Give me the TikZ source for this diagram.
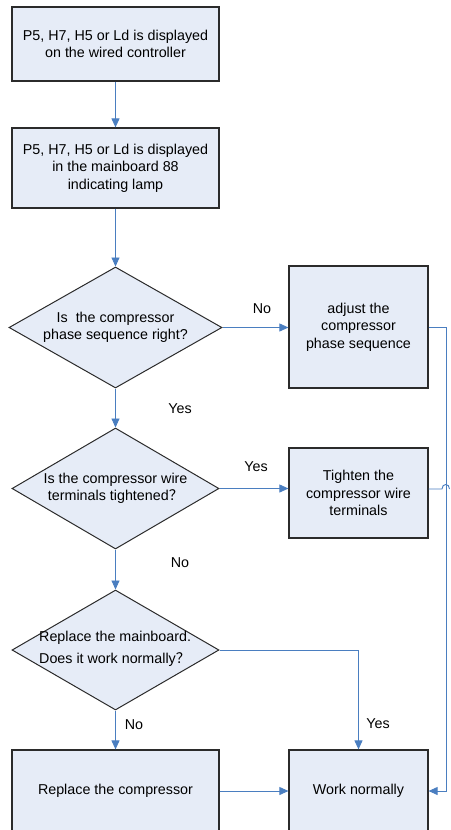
\documentclass[tikz,border=0pt]{standalone}
\usepackage{fontspec}
\setmainfont{Liberation Sans}
\newfontfamily\cjkfont{Noto Sans CJK SC}
\usetikzlibrary{shapes.geometric,arrows.meta,calc}
\definecolor{boxfill}{HTML}{E6ECF7}
\definecolor{linkblue}{HTML}{4A7EC0}
\definecolor{edgecol}{HTML}{2B2B2B}
\begin{document}
\begin{tikzpicture}[x=1pt,y=-1pt,
  font=\fontsize{14.3}{17.5}\selectfont,
  stepbox/.style={draw=edgecol,line width=1.2pt,fill=boxfill,inner sep=0pt,align=center},
  dia/.style={diamond,draw=edgecol,line width=1pt,fill=boxfill,inner sep=0pt},
  link/.style={draw=linkblue,line width=0.9pt,-{Triangle[length=9pt,width=8pt]}},
  plain/.style={draw=linkblue,line width=0.9pt},
  lbl/.style={inner sep=0pt}]
\useasboundingbox (0,0) rectangle (450,830);
% boxes
\node[stepbox,minimum width=207pt,minimum height=74pt] (b1) at (115.5,44)
  {P5, H7, H5 or Ld is displayed\\on the wired controller};
\node[stepbox,minimum width=207pt,minimum height=80pt] (b2) at (115.5,168)
  {P5, H7, H5 or Ld is displayed\\in the mainboard 88\\indicating lamp};
\node[dia,minimum width=213pt,minimum height=121pt] (d1) at (115.5,327.5) {};
\node[lbl,align=center] (d1t) at (d1.center) {Is\ \ the compressor\\phase sequence right?};
\node[stepbox,minimum width=139pt,minimum height=122pt] (adj) at (358.5,327)
  {adjust the\\compressor\\phase sequence};
\node[dia,minimum width=207pt,minimum height=121pt] (d2) at (115.5,488.5) {};
\node[lbl,align=center] (d2t) at (d2.center) {Is the compressor wire\\terminals tightened{\cjkfont ？}};
\node[stepbox,minimum width=139pt,minimum height=90pt] (tight) at (358.5,493)
  {Tighten the\\compressor wire\\terminals};
\node[dia,minimum width=207pt,minimum height=120pt] (d3) at (115.5,650) {};
\node[lbl,align=left,anchor=west,font=\fontsize{14.3}{22}\selectfont] (d3t) at (39,649)
  {Replace the mainboard.\\Does it work normally{\cjkfont ？}};
\node[stepbox,minimum width=207pt,minimum height=82pt] (rep) at (115.5,791)
  {Replace the compressor};
\node[stepbox,minimum width=139pt,minimum height=82pt] (work) at (358.5,791)
  {Work normally};
% helper coordinates
\coordinate (rx) at (446,0);
\coordinate (hopL) at (442,489);
\coordinate (hopR) at (449.5,489);
% connectors
\draw[link] (b1) -- (b2);
\draw[link] (b2) -- (d1.north);
\draw[link] (d1.east) -- (d1.east -| adj.west);
\draw[link] (d1.south) -- (d2.north);
\draw[link] (d2.east) -- (d2.east -| tight.west);
\draw[link] (d2.south) -- (d3.north);
\draw[link] (d3.south) -- (rep.north);
\draw[link] (d3.east) -| (work.north);
\draw[link] (rep.east) -- (work.west);
\draw[link] (adj.east) -- (adj.east -| rx) |- (work.east);
\draw[plain] (hopL -| tight.east) -- (hopL) .. controls ($(hopL)+(0,-6)$) and ($(hopR)+(0,-6)$) .. (hopR);
% labels
\node[lbl] (l1) at (262,309) {No};
\node[lbl] (l2) at (180,409) {Yes};
\node[lbl] (l3) at (256,467) {Yes};
\node[lbl] (l4) at (180,563) {No};
\node[lbl] (l5) at (134,725) {No};
\node[lbl] (l6) at (378,724) {Yes};
\end{tikzpicture}
\end{document}
